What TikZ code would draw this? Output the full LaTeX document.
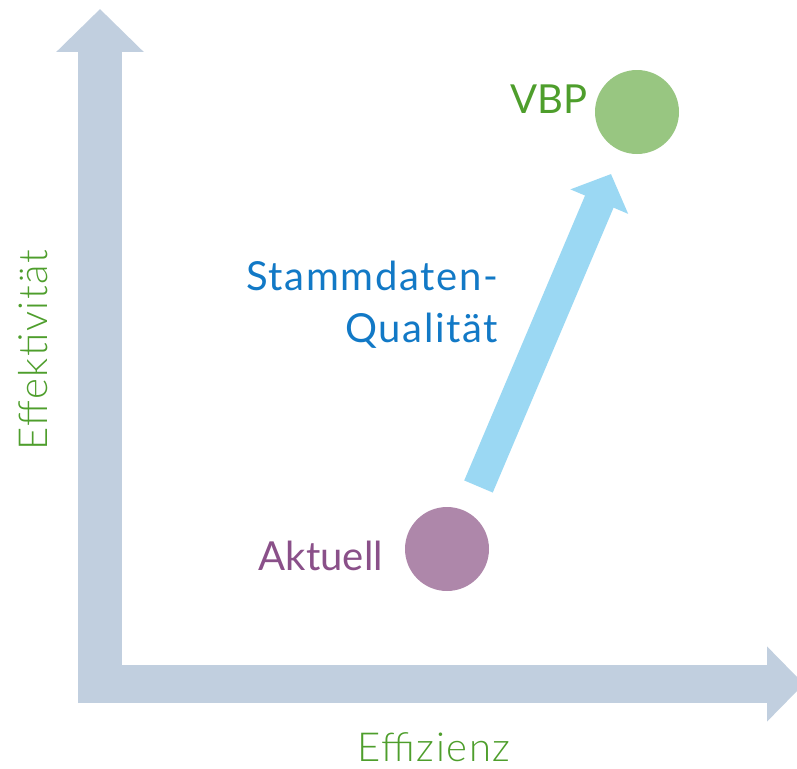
\documentclass[tikz,border=0pt]{standalone}
\usepackage{fontspec}
\setmainfont{Lato}
\newfontfamily\lightfont{Lato}[UprightFont=* Light, LetterSpace=4]
\newfontfamily\widefont{Lato}[LetterSpace=4]
\usetikzlibrary{arrows.meta}
\definecolor{axisc}{HTML}{C1CFDF}
\definecolor{qualc}{HTML}{9BD8F3}
\definecolor{vbpc}{HTML}{98C681}
\definecolor{aktc}{HTML}{AE87AA}
\definecolor{greentxt}{HTML}{4E9E2C}
\definecolor{purptxt}{HTML}{8A5089}
\definecolor{bluetxt}{HTML}{1279C6}
\tikzset{
  axisline/.style={draw=axisc, line cap=butt},
  dot/.style={circle, fill=#1, draw=none, minimum size=84pt, inner sep=0pt},
  lbl/.style={inner sep=0pt, font=\fontsize{40}{48}\selectfont},
  qlbl/.style={inner sep=0pt, font=\widefont\fontsize{40}{48}\selectfont, text=bluetxt},
  axlbl/.style={inner sep=0pt, font=\lightfont\fontsize{40}{48}\selectfont, text=greentxt},
}
\begin{document}
\begin{tikzpicture}[x=1pt,y=-1pt]
\useasboundingbox (0,0) rectangle (797,768);
% axes
\coordinate (vbot) at (100,703);
\coordinate (vtop) at (100,9);
\coordinate (hleft) at (78,684);
\coordinate (hright) at (804,684);
\draw[axisline, line width=44pt, -{Triangle[width=85pt,length=43pt]}] (vbot) -- (vtop);
\draw[axisline, line width=38pt, -{Triangle[width=73pt,length=37pt]}] (hleft) -- (hright);
% dots
\node[dot=vbpc] (vbp) at (637,112) {};
\node[dot=aktc] (akt) at (447,549) {};
% quality arrow
\coordinate (qa) at (478.5,486.5);
\coordinate (qb) at (611,174);
\draw[draw=qualc, line width=31pt, line cap=butt, -{Triangle[width=61pt,length=30pt]}] (qa) -- (qb);
% labels
\node[lbl, text=greentxt, anchor=base east] (vbplbl) at (588,113) {VBP};
\node[lbl, text=purptxt, anchor=base east] (aktlbl) at (383,570) {Aktuell};
\node[qlbl, anchor=base east] (q1) at (498,290) {Stammdaten-};
\node[qlbl, anchor=base east] (q2) at (498,342) {Qualität};
\node[axlbl, anchor=base] (xlbl) at (434,761) {Effizienz};
\node[axlbl, anchor=base, rotate=90] (ylbl) at (47,350) {Effektivität};
\end{tikzpicture}
\end{document}
